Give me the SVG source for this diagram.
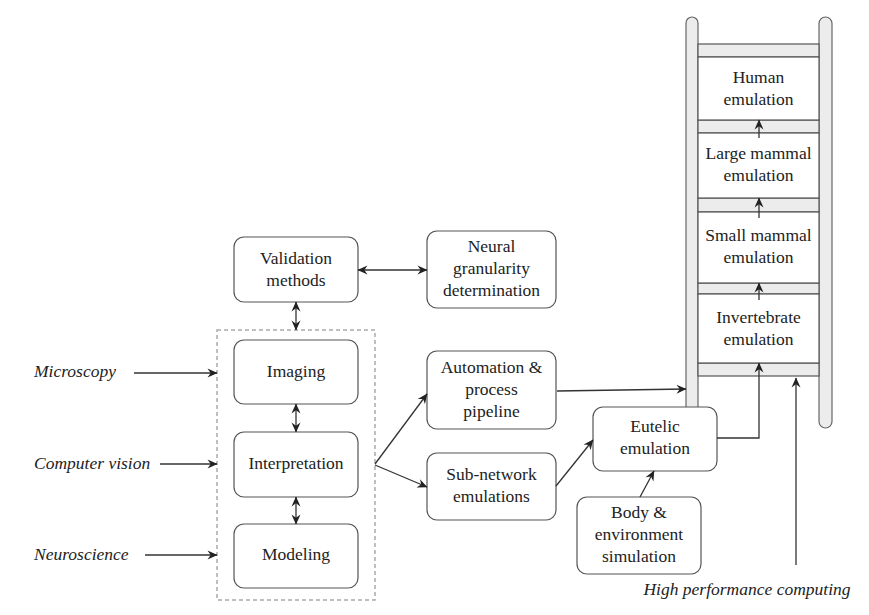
<svg xmlns="http://www.w3.org/2000/svg" width="869" height="615" viewBox="0 0 869 615">
<defs>
<marker id="ah" viewBox="0 0 10 10" refX="9.5" refY="5" markerWidth="11" markerHeight="10" markerUnits="userSpaceOnUse" orient="auto-start-reverse">
<path d="M0,0.5 L10,5 L0,9.5 L3.2,5 z" fill="#222"/>
</marker>
<style>
.box{fill:#fff;stroke:#555;stroke-width:1.2}
.rail{fill:#ececec;stroke:#666;stroke-width:1.2}
.rung{fill:#ececec;stroke:#555;stroke-width:1.2}
.t{font-size:17.5px;fill:#222;text-anchor:middle}
.it{font-size:17.5px;fill:#222;font-style:italic}
.c{fill:none;stroke:#333;stroke-width:1.3}
.a{marker-end:url(#ah)}
.d{marker-start:url(#ah);marker-end:url(#ah)}
</style>
</defs>
<rect width="869" height="615" fill="#fff"/>
<g font-family="Liberation Serif, DejaVu Serif, serif">
<g id="ladder">
<rect class="rail" x="686" y="17" width="12" height="411" rx="6"/>
<rect class="rail" x="819" y="17" width="13" height="411" rx="6.5"/>
<rect class="rung" x="698" y="44" width="121" height="13"/>
<rect class="rung" x="698" y="120" width="121" height="13"/>
<rect class="rung" x="698" y="198" width="121" height="14"/>
<rect class="rung" x="698" y="283" width="121" height="11"/>
<rect class="rung" x="698" y="363" width="121" height="13"/>
</g>

<g id="human">
<rect class="box" x="698" y="57" width="121" height="63"/>
<text class="t" x="758.5" y="83">Human</text>
<text class="t" x="758.5" y="105">emulation</text>
</g>
<g id="large">
<rect class="box" x="698" y="133" width="121" height="65"/>
<text class="t" x="758.5" y="159">Large mammal</text>
<text class="t" x="758.5" y="181">emulation</text>
</g>
<g id="small">
<rect class="box" x="698" y="212" width="121" height="71"/>
<text class="t" x="758.5" y="241">Small mammal</text>
<text class="t" x="758.5" y="263">emulation</text>
</g>
<g id="invertebrate">
<rect class="box" x="698" y="294" width="121" height="69"/>
<text class="t" x="758.5" y="323">Invertebrate</text>
<text class="t" x="758.5" y="345">emulation</text>
</g>

<g id="pipeline-frame">
<rect x="217" y="330" width="158" height="270" fill="none" stroke="#aaa" stroke-width="1.5" stroke-dasharray="4,3"/>
</g>

<g id="validation">
<rect class="box" x="234" y="237" width="124" height="65" rx="10"/>
<text class="t" x="296" y="264">Validation</text>
<text class="t" x="296" y="286">methods</text>
</g>
<g id="neural">
<rect class="box" x="427" y="231" width="129" height="77" rx="10"/>
<text class="t" x="491.5" y="252">Neural</text>
<text class="t" x="491.5" y="274">granularity</text>
<text class="t" x="491.5" y="296">determination</text>
</g>
<g id="imaging">
<rect class="box" x="234" y="340" width="124" height="64" rx="10"/>
<text class="t" x="296" y="377">Imaging</text>
</g>
<g id="interpretation">
<rect class="box" x="234" y="432" width="124" height="65" rx="10"/>
<text class="t" x="296" y="469">Interpretation</text>
</g>
<g id="modeling">
<rect class="box" x="234" y="524" width="124" height="64" rx="10"/>
<text class="t" x="296" y="560">Modeling</text>
</g>
<g id="automation">
<rect class="box" x="427" y="351" width="129" height="78" rx="10"/>
<text class="t" x="491.5" y="373">Automation &amp;</text>
<text class="t" x="491.5" y="395">process</text>
<text class="t" x="491.5" y="417">pipeline</text>
</g>
<g id="subnetwork">
<rect class="box" x="427" y="453" width="129" height="67" rx="10"/>
<text class="t" x="491.5" y="480">Sub-network</text>
<text class="t" x="491.5" y="502">emulations</text>
</g>
<g id="eutelic">
<rect class="box" x="593" y="407" width="124" height="64" rx="10"/>
<text class="t" x="655" y="432">Eutelic</text>
<text class="t" x="655" y="454">emulation</text>
</g>
<g id="body">
<rect class="box" x="577" y="497" width="124" height="77" rx="10"/>
<text class="t" x="639" y="518">Body &amp;</text>
<text class="t" x="639" y="540">environment</text>
<text class="t" x="639" y="562">simulation</text>
</g>

<g id="labels">
<text class="it" x="34" y="377">Microscopy</text>
<text class="it" x="34" y="469">Computer vision</text>
<text class="it" x="34" y="560">Neuroscience</text>
<text class="it" x="747" y="595" text-anchor="middle">High performance computing</text>
</g>
</g>
<g id="connectors">
<line class="c a" x1="134" y1="373" x2="217" y2="373"/>
<line class="c a" x1="160" y1="464" x2="217" y2="464"/>
<line class="c a" x1="145" y1="555" x2="217" y2="555"/>
<line class="c d" x1="358" y1="270" x2="427" y2="270"/>
<line class="c d" x1="296" y1="302" x2="296" y2="330"/>
<line class="c d" x1="296" y1="404" x2="296" y2="432"/>
<line class="c d" x1="296" y1="497" x2="296" y2="524"/>
<line class="c a" x1="375" y1="464" x2="427" y2="394"/>
<line class="c a" x1="375" y1="465" x2="427" y2="487"/>
<line class="c a" x1="556" y1="486" x2="593" y2="440"/>
<line class="c a" x1="640" y1="497" x2="654" y2="471"/>
<line class="c a" x1="557" y1="391" x2="686" y2="389"/>
<polyline class="c a" points="717,438 759,438 759,363"/>
<line class="c a" x1="796" y1="565" x2="796" y2="378"/>
<line class="c a" x1="759" y1="300" x2="759" y2="283"/>
<line class="c a" x1="759" y1="218" x2="759" y2="198"/>
<line class="c a" x1="759" y1="138" x2="759" y2="120"/>
</g>
</svg>
